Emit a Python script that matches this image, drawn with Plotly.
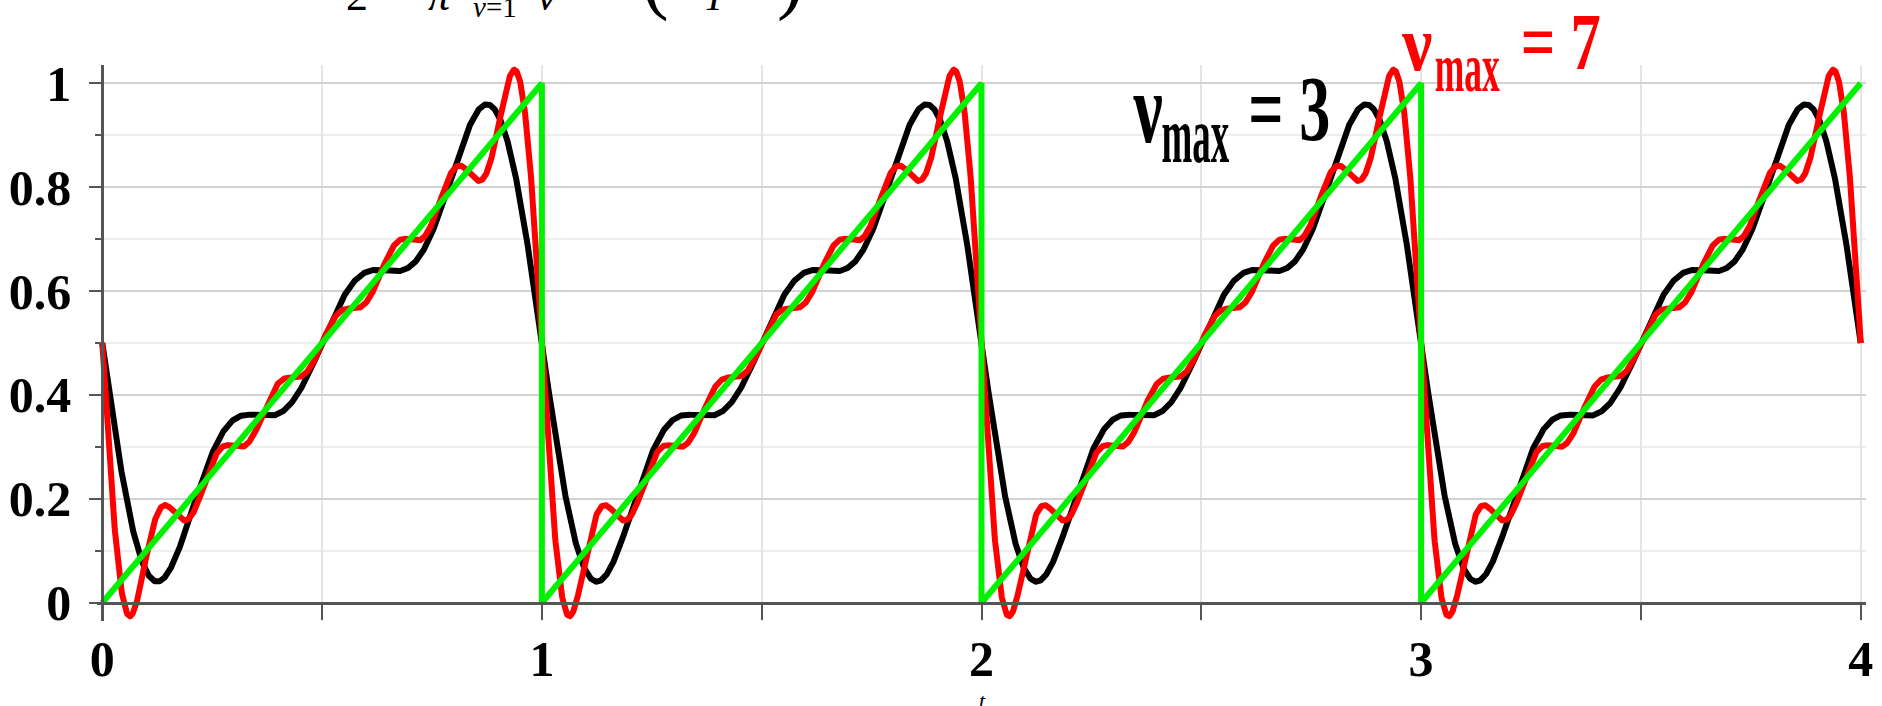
import json
import numpy as np
import plotly.graph_objects as go

# ---- data -------------------------------------------------------------
t_span = [0.0, 4.0]          # time window shown
period = 1.0                 # sawtooth period T
nu_max_values = [3, 7]       # number of harmonics in each partial sum
n_samples = 4001

# target sawtooth f(t) = t/T mod 1 (corners, with the jumps drawn vertical)
saw_t = [0, 1, 1, 2, 2, 3, 3, 4]
saw_y = [0, 1, 0, 1, 0, 1, 0, 1]

x_ticks = [0, 0.5, 1, 1.5, 2, 2.5, 3, 3.5, 4]
x_tick_text = ["0", "", "1", "", "2", "", "3", "", "4"]
y_ticks = [0, 0.2, 0.4, 0.6, 0.8, 1.0]
y_tick_text = ["0", "0.2", "0.4", "0.6", "0.8", "1"]

# ---- figure geometry --------------------------------------------------
W, H = 1882, 706
ML, MR, MT, MB = 95, 9, 65, 85
X_RANGE = [-0.012, 4.012]
Y_RANGE = [-0.035, 1.035]


def px_x(px):
    return (px - ML) / (W - ML - MR)


def px_y(py):
    return (H - MB - py) / (H - MT - MB)


def partial_sum(t, nu_max):
    """1/2 - 1/pi * sum_{nu=1}^{nu_max} sin(2 pi nu t / T) / nu"""
    s = np.zeros_like(t)
    for nu in range(1, nu_max + 1):
        s += np.sin(2 * np.pi * nu * t / period) / nu
    return 0.5 - s / np.pi


t = np.linspace(t_span[0], t_span[1], n_samples)

fig = go.Figure()
line_colors = {3: "#000000", 7: "#ff0000"}
for nu_max in nu_max_values:
    fig.add_trace(go.Scatter(
        x=t, y=partial_sum(t, nu_max), mode="lines",
        line=dict(color=line_colors[nu_max], width=6),
        showlegend=False, hoverinfo="skip"))

fig.add_trace(go.Scatter(
    x=saw_t, y=saw_y, mode="lines",
    line=dict(color="#00f200", width=6),
    showlegend=False, hoverinfo="skip"))

tick_font = dict(family="Liberation Serif", size=50, color="black", weight="bold")
axis_grey = "#555555"

fig.update_layout(
    width=W, height=H,
    margin=dict(l=ML, r=MR, t=MT, b=MB, pad=0),
    paper_bgcolor="white", plot_bgcolor="white",
    xaxis=dict(
        range=X_RANGE, anchor="free",
        position=(0 - Y_RANGE[0]) / (Y_RANGE[1] - Y_RANGE[0]),
        tickmode="array", tickvals=x_ticks, ticktext=x_tick_text,
        ticks="outside", ticklen=15, tickwidth=2, tickcolor=axis_grey,
        tickfont=tick_font, ticklabelstandoff=-4,
        showgrid=True, gridcolor="#e4e4e4", gridwidth=1.5,
        showline=True, linecolor=axis_grey, linewidth=3,
        zeroline=False,
    ),
    yaxis=dict(
        range=Y_RANGE, anchor="free",
        position=(0 - X_RANGE[0]) / (X_RANGE[1] - X_RANGE[0]),
        tickmode="array", tickvals=y_ticks, ticktext=y_tick_text,
        ticks="outside", ticklen=12, tickwidth=2, tickcolor=axis_grey,
        tickfont=tick_font, ticklabelstandoff=8,
        showgrid=True, gridcolor="#d2d2d2", gridwidth=2,
        minor=dict(dtick=0.1, tick0=0, ticks="outside", ticklen=6,
                   tickwidth=2, tickcolor=axis_grey,
                   showgrid=True, gridcolor="#eeeeee", gridwidth=2),
        showline=True, linecolor=axis_grey, linewidth=3,
        zeroline=False,
    ),
)

annotations = []
squeeze = {}


def label(text, cx, baseline, size, color="black", family="Liberation Serif",
          weight="normal", style="normal", width=None):
    """Place text centred at cx with its baseline at the given pixel row."""
    bottom = baseline + 0.216 * size + 1
    annotations.append(dict(
        text=text, xref="paper", yref="paper",
        x=px_x(cx), y=px_y(bottom), xanchor="center", yanchor="bottom",
        showarrow=False, borderpad=0,
        font=dict(family=family, size=size, color=color,
                  weight=weight, style=style)))
    if width is not None:
        squeeze[str(len(annotations) - 1)] = width


# the series labels, set in tall narrow bold type
label("ν", 1151, 142, 100, weight="bold", width=30)
label("max", 1199, 163, 81, weight="bold", width=68)
label("= 3", 1294, 140, 93, weight="bold", width=82)
label("ν", 1422, 70, 78, color="red", weight="bold", width=31)
label("max", 1472, 91, 70, color="red", weight="bold", width=65)
label("= 7", 1566, 69, 80, color="red", weight="bold", width=80)

# the Fourier-series formula along the top edge
label("2", 356, 10, 44)
label("π", 440, 10, 44, style="italic")
label("<i>ν</i>=1", 495, 17, 29)
label("ν", 547, 10, 44, style="italic")
label("(", 656, 5, 80)
label("T", 717, 10, 40, style="italic")
label(")", 792, 5, 80)

# axis name under the t axis
label("t", 985, 708, 22, style="italic")

fig.update_layout(annotations=annotations)

narrow_js = """
var gd = document.getElementById('{plot_id}');
var squeeze = %s;
function narrowLabels() {
  gd.querySelectorAll('g.annotation').forEach(function (g) {
    var i = g.getAttribute('data-index');
    if (!(i in squeeze)) return;
    var txt = g.querySelector('text.annotation-text');
    if (!txt) return;
    txt.removeAttribute('transform');
    var bb = txt.getBBox();
    var cx = bb.x + bb.width / 2;
    var sx = squeeze[i] / bb.width;
    txt.setAttribute('transform', 'translate(' + cx + ',0) scale(' + sx + ',1) translate(' + (-cx) + ',0)');
  });
}
narrowLabels();
gd.on('plotly_afterplot', narrowLabels);
""" % json.dumps(squeeze)

fig.write_html("out.html", post_script=narrow_js, config={"displayModeBar": False})
